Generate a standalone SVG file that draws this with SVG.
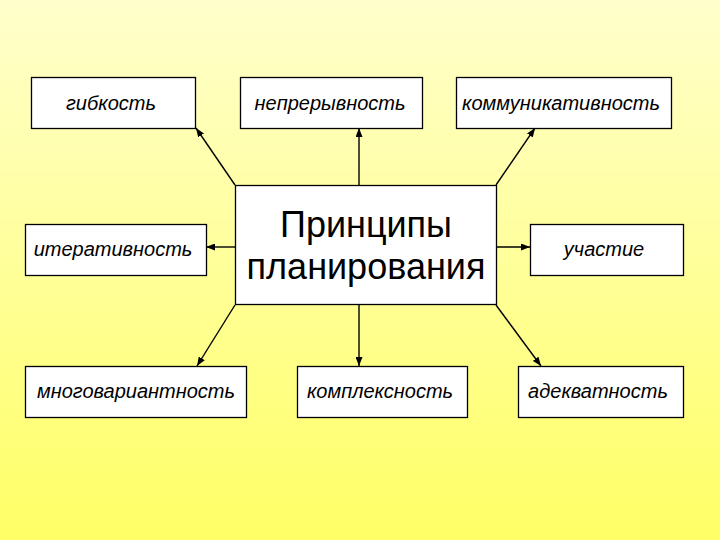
<svg xmlns="http://www.w3.org/2000/svg" width="720" height="540" viewBox="0 0 720 540">
<defs>
<linearGradient id="bg" x1="0" y1="0" x2="0" y2="1">
<stop offset="0" stop-color="#FFFFCC"/>
<stop offset="1" stop-color="#FFFF66"/>
</linearGradient>
<marker id="ah" markerUnits="userSpaceOnUse" markerWidth="9" markerHeight="7" refX="9" refY="3.5" orient="auto">
<path d="M0,0 L9,3.5 L0,7 z" fill="#000"/>
</marker>
<style>
.box{fill:#fff;stroke:#000;stroke-width:1.3}
.lbl{font-family:"Liberation Sans",Arial,sans-serif;font-style:italic;font-size:20px;fill:#000;text-anchor:middle}
.ttl{font-family:"Liberation Sans",Arial,sans-serif;font-size:36px;fill:#000;text-anchor:middle}
.con{stroke:#000;stroke-width:1.4;fill:none;marker-end:url(#ah)}
</style>
</defs>
<rect width="720" height="540" fill="url(#bg)"/>
<g id="connectors">
<line class="con" x1="235" y1="185" x2="196" y2="128"/>
<line class="con" x1="359" y1="185" x2="359" y2="128"/>
<line class="con" x1="496" y1="185" x2="535" y2="128"/>
<line class="con" x1="235" y1="247" x2="206" y2="247"/>
<line class="con" x1="496" y1="247" x2="530" y2="247"/>
<line class="con" x1="235" y1="305" x2="197" y2="366"/>
<line class="con" x1="359" y1="305" x2="359" y2="366"/>
<line class="con" x1="496" y1="305" x2="541" y2="366"/>
</g>
<g id="center">
<rect class="box" x="235.5" y="185.5" width="261" height="119"/>
<text class="ttl" x="366" y="237">Принципы</text>
<text class="ttl" x="366" y="279">планирования</text>
</g>
<g id="n-gibkost">
<rect class="box" x="31.5" y="77.5" width="164" height="51"/>
<text class="lbl" x="111" y="110">гибкость</text>
</g>
<g id="n-nepreryvnost">
<rect class="box" x="240.5" y="77.5" width="182" height="51"/>
<text class="lbl" x="330" y="110">непрерывность</text>
</g>
<g id="n-kommunikativnost">
<rect class="box" x="456.5" y="77.5" width="215" height="51"/>
<text class="lbl" x="561" y="110">коммуникативность</text>
</g>
<g id="n-iterativnost">
<rect class="box" x="25.5" y="224.5" width="181" height="51"/>
<text class="lbl" x="113" y="256">итеративность</text>
</g>
<g id="n-uchastie">
<rect class="box" x="530.5" y="224.5" width="153" height="51"/>
<text class="lbl" x="604" y="256">участие</text>
</g>
<g id="n-mnogovariantnost">
<rect class="box" x="25.5" y="366.5" width="221" height="51"/>
<text class="lbl" x="136" y="398">многовариантность</text>
</g>
<g id="n-kompleksnost">
<rect class="box" x="297.5" y="366.5" width="170" height="51"/>
<text class="lbl" x="380" y="398">комплексность</text>
</g>
<g id="n-adekvatnost">
<rect class="box" x="518.5" y="366.5" width="165" height="51"/>
<text class="lbl" x="598" y="398">адекватность</text>
</g>
</svg>
